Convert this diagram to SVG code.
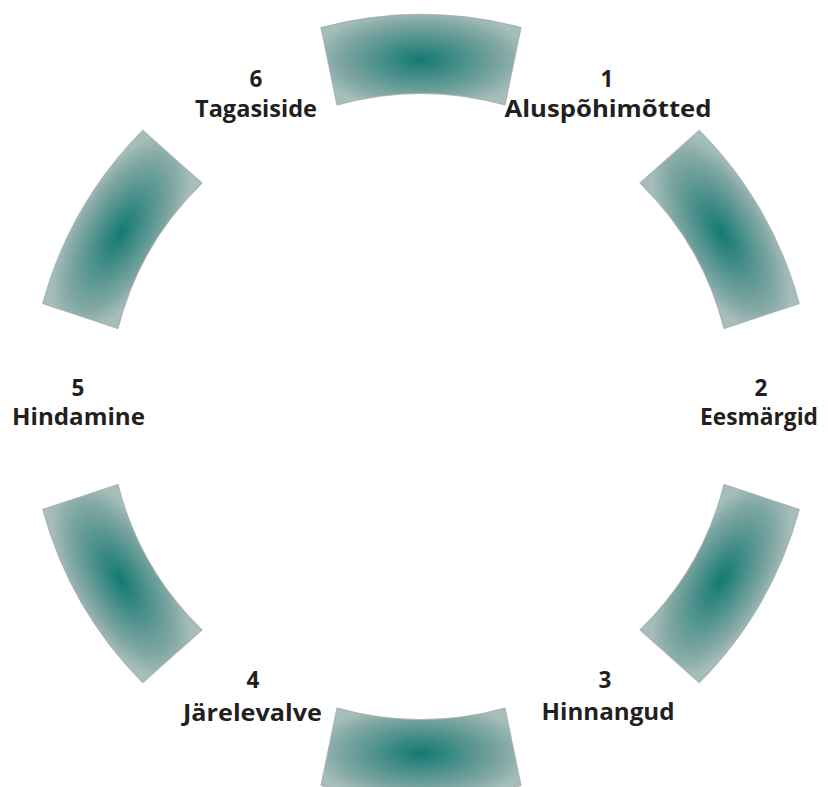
<svg xmlns="http://www.w3.org/2000/svg" width="828" height="787" viewBox="0 0 828 787">
  <style>
    .num { font-family: "Open Sans", "Liberation Sans", sans-serif; font-weight: 700; font-size: 22.5px; fill: #231f20; text-anchor: middle; }
    .lbl { font-family: "Open Sans", "Liberation Sans", sans-serif; font-weight: 700; font-size: 23px; fill: #231f20; text-anchor: middle; }
    .seg { fill: url(#segGrad); stroke: #a3abaa; stroke-width: 1.2; stroke-opacity: 0.8; }
  </style>
  <defs>
    <radialGradient id="segGrad" cx="0.5" cy="0.5" r="0.55" fx="0.5" fy="0.5">
      <stop offset="0" stop-color="#137a72"/>
      <stop offset="0.35" stop-color="#468e89"/>
      <stop offset="0.75" stop-color="#80a7a3"/>
      <stop offset="1" stop-color="#a6bebb"/>
    </radialGradient>
    <path id="seg" class="seg" d="M -100 -379 A 392 392 0 0 1 100 -379 L 84 -301.5 A 313 313 0 0 0 -84 -301.5 Z"/>
  </defs>
  <rect x="0" y="0" width="828" height="787" fill="#ffffff"/>

  <g id="connectors" transform="translate(421 406.5)">
    <use href="#seg" transform="rotate(0)"/>
    <use href="#seg" transform="rotate(60)"/>
    <use href="#seg" transform="rotate(120)"/>
    <use href="#seg" transform="rotate(180)"/>
    <use href="#seg" transform="rotate(240)"/>
    <use href="#seg" transform="rotate(300)"/>
  </g>

  <g id="node-1">
    <text class="num" x="607" y="87">1</text>
    <text class="lbl" x="608" y="117" textLength="207" lengthAdjust="spacingAndGlyphs">Aluspõhimõtted</text>
  </g>
  <g id="node-2">
    <text class="num" x="761" y="396">2</text>
    <text class="lbl" x="759" y="425" textLength="118" lengthAdjust="spacingAndGlyphs">Eesmärgid</text>
  </g>
  <g id="node-3">
    <text class="num" x="605" y="688">3</text>
    <text class="lbl" x="608" y="720" textLength="133" lengthAdjust="spacingAndGlyphs">Hinnangud</text>
  </g>
  <g id="node-4">
    <text class="num" x="253" y="688">4</text>
    <text class="lbl" x="252.5" y="721" textLength="139" lengthAdjust="spacingAndGlyphs">Järelevalve</text>
  </g>
  <g id="node-5">
    <text class="num" x="78" y="396">5</text>
    <text class="lbl" x="78.5" y="425" textLength="133" lengthAdjust="spacingAndGlyphs">Hindamine</text>
  </g>
  <g id="node-6">
    <text class="num" x="256" y="87">6</text>
    <text class="lbl" x="256" y="117" textLength="122" lengthAdjust="spacingAndGlyphs">Tagasiside</text>
  </g>
</svg>
